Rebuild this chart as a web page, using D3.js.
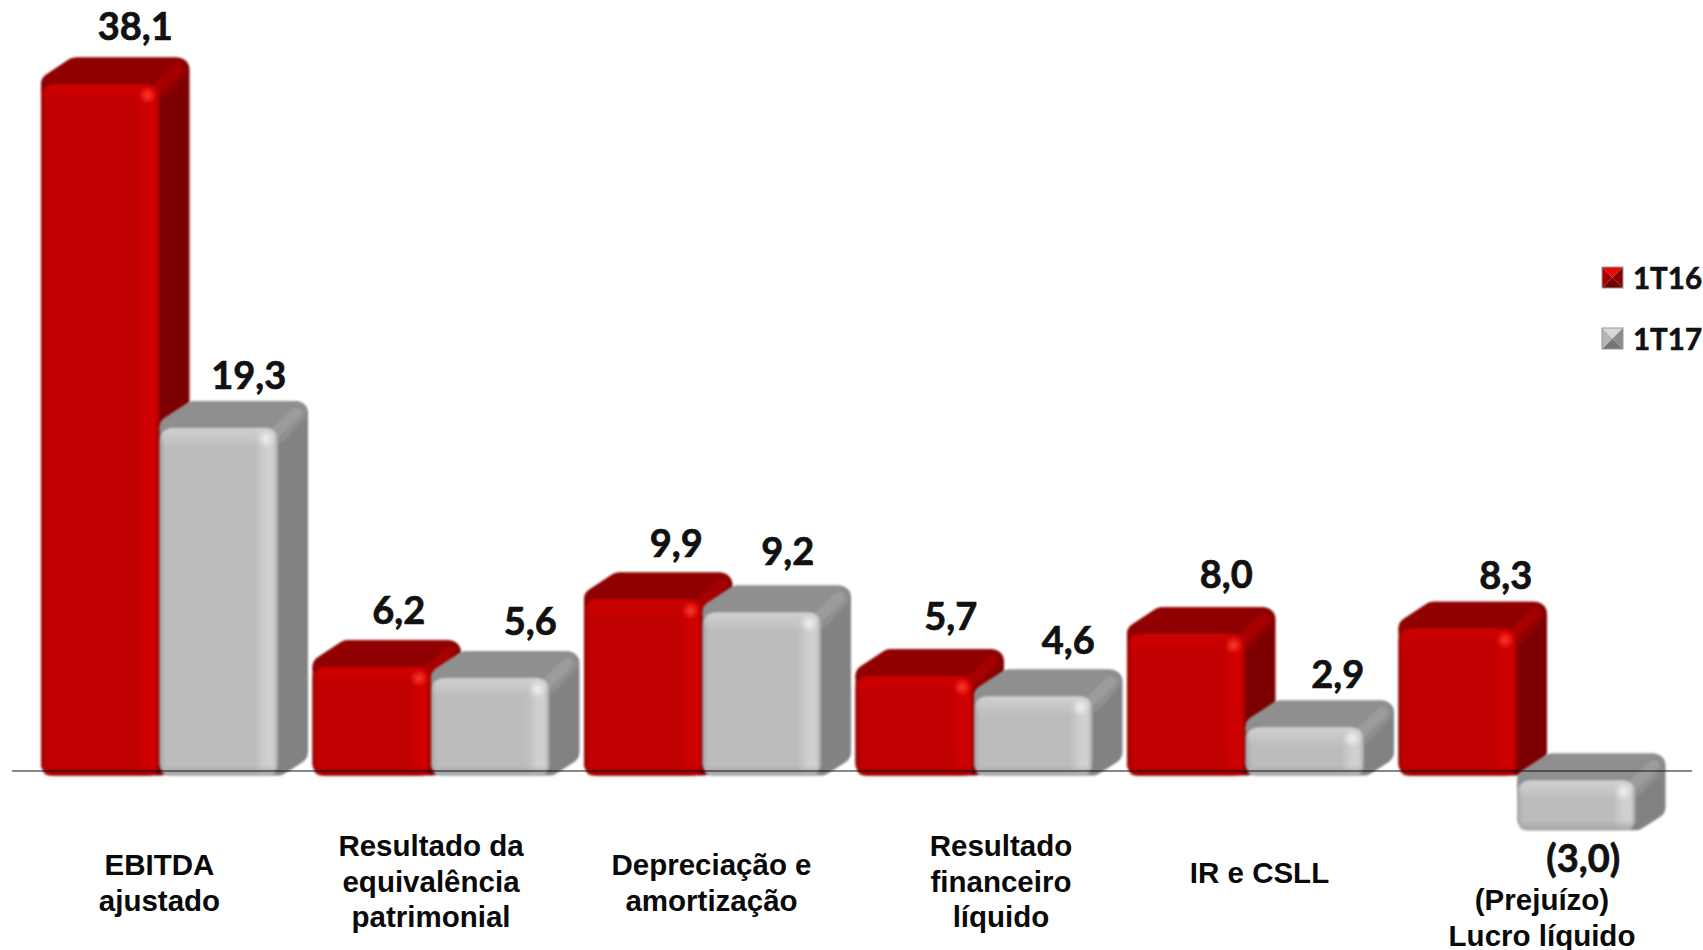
<!DOCTYPE html>
<html>
<head>
<meta charset="utf-8">
<script src="https://cdnjs.cloudflare.com/ajax/libs/d3/7.8.5/d3.min.js"></script>
<style>
    html, body { margin: 0; padding: 0; background: #fff; overflow: hidden; }
    svg { display: block; }
    .value { font-family: Lato, sans-serif; font-weight: 700; font-size: 38px; fill: #111; stroke: #111; stroke-width: 0.7px; text-anchor: middle; }
    .cat { font-family: "Liberation Sans", Arial, sans-serif; font-weight: 700; font-size: 29.5px; fill: #0a0a0a; text-anchor: middle; }
    .leg { font-family: Lato, sans-serif; font-weight: 700; font-size: 29.5px; fill: #111; stroke: #111; stroke-width: 0.6px; }
</style>
</head>
<body>
<div id="chart"></div>
<script>
// data
const categories = ["EBITDA ajustado", "Resultado da equivalência patrimonial", "Depreciação e amortização",
    "Resultado financeiro líquido", "IR e CSLL", "(Prejuízo) Lucro líquido"];
const categoryLines = [
    ["EBITDA", "ajustado"],
    ["Resultado da", "equivalência", "patrimonial"],
    ["Depreciação e", "amortização"],
    ["Resultado", "financeiro", "líquido"],
    ["IR e CSLL"],
    ["(Prejuízo)", "Lucro líquido"]
];
const seriesNames = ["1T16", "1T17"];
const values1T16 = [38.1, 6.2, 9.9, 5.7, 8.0, 8.3];
const values1T17 = [19.3, 5.6, 9.2, 4.6, 2.9, -3.0];

var width = 1703;
var height = 950;

var depthX = 30;
var depthY = 27;
var corner = 12;
var baseLift = 5;     // bars stop a little above their scale zero

// the labels were placed by hand in the original, so each one gets a nudge [dx, gap above bar]
var nudge1T16 = [[35, 17], [27, 16], [33, 15.6], [36, 19], [40, 19], [48, 13]];
var nudge1T17 = [[30, 12], [40, 16], [26, 20.5], [35, 15.5], [33, 13], [7, -118.5]];
var catNudge = [0, 0, 9, 27, 14, 25];
var catFirstBaseline = [875, 856, 875, 856, 883, 910];

var palette = {
    "1T16": {front: "#c00000", edge: "#a00000", light: "#cf0000", top: "#900000", side: "#7d0000", shine: "#ff3a2a", band: "#a80000"},
    "1T17": {front: "#bcbcbc", edge: "#a4a4a4", light: "#d0d0d0", top: "#8f8f8f", side: "#828282", shine: "#f0f0f0", band: "#9c9c9c"}
};

var svg = d3.select("#chart").append("svg")
    .attr("width", width)
    .attr("height", height);

var defs = svg.append("defs");

// region in user space, the default box leaves out the strokes and cuts small bars
defs.append("filter").attr("id", "soft")
    .attr("filterUnits", "userSpaceOnUse")
    .attr("x", 0).attr("y", 0)
    .attr("width", width).attr("height", height)
    .append("feGaussianBlur").attr("stdDeviation", 0.8);

seriesNames.forEach(function (name, i) {
    var c = palette[name];
    var g = defs.append("linearGradient").attr("id", "front" + i);
    [[0, c.edge], [0.05, c.front], [0.8, c.front], [0.9, c.light], [0.96, c.light], [1, c.edge]].forEach(function (s) {
        g.append("stop").attr("offset", s[0]).attr("stop-color", s[1]);
    });
    var t = defs.append("linearGradient").attr("id", "strip" + i)
        .attr("x1", 0).attr("x2", 0).attr("y1", 0).attr("y2", 1);
    t.append("stop").attr("offset", 0).attr("stop-color", c.light).attr("stop-opacity", 1);
    t.append("stop").attr("offset", 1).attr("stop-color", c.light).attr("stop-opacity", 0);
    var b = defs.append("linearGradient").attr("id", "foot" + i)
        .attr("x1", 0).attr("x2", 0).attr("y1", 0).attr("y2", 1);
    b.append("stop").attr("offset", 0).attr("stop-color", c.edge).attr("stop-opacity", 0);
    b.append("stop").attr("offset", 1).attr("stop-color", c.edge).attr("stop-opacity", 1);
    var r = defs.append("radialGradient").attr("id", "shine" + i);
    r.append("stop").attr("offset", 0).attr("stop-color", c.shine).attr("stop-opacity", 1);
    r.append("stop").attr("offset", 1).attr("stop-color", c.shine).attr("stop-opacity", 0);
});

var x0 = d3.scaleBand()
    .domain(categories)
    .range([41, 41 + 5 * 271.5 + 237])
    .paddingInner(1 - 237 / 271.5);

var x1 = d3.scaleBand()
    .domain(seriesNames)
    .range([0, x0.bandwidth()]);

var y = d3.scaleLinear()
    .domain([0, 38.1])
    .range([780.5, 84.4]);

function label(v) {
    var s = Math.abs(v).toFixed(1).replace(".", ",");
    return v < 0 ? "(" + s + ")" : s;
}

function drawBar(parent, name, seriesIndex, cat, v) {
    var c = palette[name];
    var left = x0(cat) + x1(name);
    var right = left + x1.bandwidth();
    var top = v < 0 ? y(0) : y(v);
    var bottom = v < 0 ? y(v) - baseLift : y(0) - baseLift;
    var g = parent.append("g").attr("filter", "url(#soft)");
    var r = corner;

    // side and overall silhouette
    var outline = d3.path();
    outline.moveTo(left + r, top);
    outline.lineTo(left + depthX + r * 0.4, top - depthY + r);
    outline.lineTo(right + depthX - r, top - depthY + r);
    outline.lineTo(right + depthX - r, bottom - depthY + r * 0.3);
    outline.lineTo(right, bottom - r);
    outline.lineTo(left + r, bottom - r);
    outline.closePath();
    g.append("path").attr("d", outline.toString())
        .attr("fill", c.side).attr("stroke", c.side)
        .attr("stroke-width", r * 2).attr("stroke-linejoin", "round");

    // top face
    var topFace = d3.path();
    topFace.moveTo(left + r, top);
    topFace.lineTo(left + depthX + r * 0.4, top - depthY + r);
    topFace.lineTo(right + depthX - r - 2, top - depthY + r);
    topFace.lineTo(right - 2, top + 4);
    topFace.closePath();
    g.append("path").attr("d", topFace.toString())
        .attr("fill", c.top).attr("stroke", c.top)
        .attr("stroke-width", r * 2).attr("stroke-linejoin", "round");

    // lighter bevel between top and side
    var band = d3.path();
    band.moveTo(right - 4, top + 6);
    band.lineTo(right + depthX - r, top - depthY + r);
    g.append("path").attr("d", band.toString())
        .attr("fill", "none").attr("stroke", c.band)
        .attr("stroke-width", 11).attr("stroke-linecap", "round");

    // front face
    g.append("rect")
        .attr("x", left).attr("y", top)
        .attr("width", right - left).attr("height", bottom - top)
        .attr("rx", r).attr("ry", r)
        .attr("fill", "url(#front" + seriesIndex + ")");
    g.append("rect")
        .attr("x", left + 2).attr("y", top)
        .attr("width", right - left - 4).attr("height", 20)
        .attr("rx", r).attr("ry", r)
        .attr("fill", "url(#strip" + seriesIndex + ")");
    g.append("rect")
        .attr("x", left + 2).attr("y", bottom - 10)
        .attr("width", right - left - 4).attr("height", 10)
        .attr("rx", 6).attr("ry", 6)
        .attr("fill", "url(#foot" + seriesIndex + ")");
    g.append("circle")
        .attr("cx", right - 12).attr("cy", top + 11).attr("r", 9)
        .attr("fill", "url(#shine" + seriesIndex + ")");
}

var bars = svg.append("g");

categories.forEach(function (cat, i) {
    drawBar(bars, seriesNames[0], 0, cat, values1T16[i]);
    drawBar(bars, seriesNames[1], 1, cat, values1T17[i]);
});

// zero line, on top of the bars
svg.append("line")
    .attr("x1", 12).attr("x2", 1692)
    .attr("y1", 771).attr("y2", 771)
    .attr("stroke", "#111").attr("stroke-width", 1.2);

// value labels
seriesNames.forEach(function (name, s) {
    var vals = s === 0 ? values1T16 : values1T17;
    var nudge = s === 0 ? nudge1T16 : nudge1T17;
    svg.selectAll(".value" + s)
        .data(vals)
        .enter().append("text")
        .attr("class", "value value" + s)
        .attr("x", function (d, i) { return x0(categories[i]) + x1(name) + x1.bandwidth() / 2 + nudge[i][0]; })
        .attr("y", function (d, i) {
            var top = d < 0 ? y(0) : y(d);
            return top - depthY - nudge[i][1];
        })
        .text(label);
});

// category labels
categories.forEach(function (cat, i) {
    var t = svg.append("text")
        .attr("class", "cat")
        .attr("x", x0(cat) + x0.bandwidth() / 2 + catNudge[i])
        .attr("y", catFirstBaseline[i]);
    categoryLines[i].forEach(function (line, j) {
        t.append("tspan")
            .attr("x", x0(cat) + x0.bandwidth() / 2 + catNudge[i])
            .attr("dy", j === 0 ? 0 : 35.5)
            .text(line);
    });
});

// legend with the little pyramid swatches
var legendY = d3.scalePoint().domain(seriesNames).range([267, 328]);
var swatchShades = {
    "1T16": ["#e80808", "#8a0000", "#6e0000", "#a80000"],
    "1T17": ["#d8d8d8", "#8c8c8c", "#757575", "#b4b4b4"]
};

var legend = svg.selectAll(".legend")
    .data(seriesNames)
    .enter().append("g")
    .attr("class", "legend")
    .attr("transform", function (d) { return "translate(1602," + legendY(d) + ")"; });

legend.each(function (d) {
    var g = d3.select(this);
    var sw = 21;
    var mid = sw / 2;
    var tris = [
        [[0, 0], [sw, 0], [mid, mid]],
        [[sw, 0], [sw, sw], [mid, mid]],
        [[0, sw], [sw, sw], [mid, mid]],
        [[0, 0], [0, sw], [mid, mid]]
    ];
    tris.forEach(function (tri, k) {
        g.append("path")
            .attr("d", d3.line()(tri) + "Z")
            .attr("fill", swatchShades[d][k]);
    });
    g.append("rect").attr("width", sw).attr("height", sw)
        .attr("fill", "none").attr("stroke", "#999").attr("stroke-width", 1);
});

legend.append("text")
    .attr("class", "leg")
    .attr("x", 31)
    .attr("y", 22)
    .text(function (d) { return d; });
</script>
</body>
</html>
